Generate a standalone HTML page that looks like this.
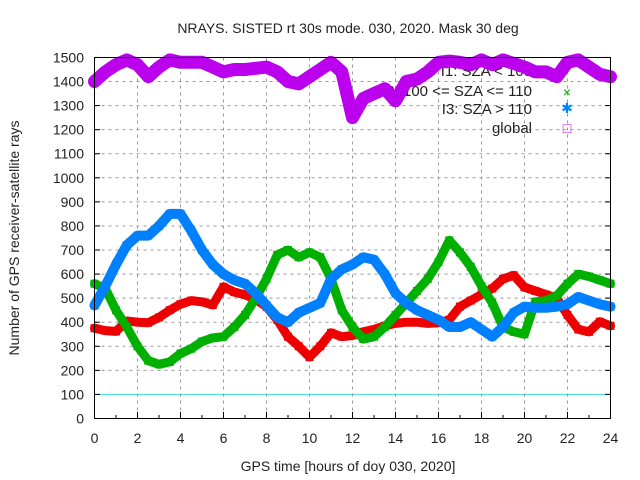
<!DOCTYPE html>
<html><head><meta charset="utf-8"><style>
body{margin:0;background:#fff}
svg{display:block;font-family:"Liberation Sans",sans-serif}
</style></head><body>
<svg id="chart" width="640" height="480" viewBox="0 0 640 480">
<text x="348" y="33" font-size="14" text-anchor="middle" fill="#222">NRAYS. SISTED rt 30s mode. 030, 2020. Mask 30 deg</text>
<text x="348" y="471" font-size="14" text-anchor="middle" fill="#222">GPS time [hours of doy 030, 2020]</text>
<text transform="translate(19,238) rotate(-90)" font-size="14" text-anchor="middle" fill="#222">Number of GPS receiver-satellite rays</text>
<g id="grid"></g>
<g id="ticks"></g>
<g id="legend" font-size="15" fill="#222" text-anchor="end">
<text x="532" y="76">I1: SZA &lt; 100</text>
<text x="532" y="96">I2: 100 &lt;= SZA &lt;= 110</text>
<text x="532" y="114">I3: SZA &gt; 110</text>
<text x="532" y="133">global</text>
</g>
<g id="series"></g>
<rect x="94.5" y="57.5" width="516" height="361" fill="none" stroke="#000" stroke-width="1"/>
</svg>
<script>
const hours=[0,0.5,1,1.5,2,2.5,3,3.5,4,4.5,5,5.5,6,6.5,7,7.5,8,8.5,9,9.5,10,10.5,11,11.5,12,12.5,13,13.5,14,14.5,15,15.5,16,16.5,17,17.5,18,18.5,19,19.5,20,20.5,21,21.5,22,22.5,23,23.5,24];
const redVals=[375,365,362,405,400,398,420,450,475,490,485,472,547,525,514,495,464,410,340,300,255,300,356,340,345,360,370,385,395,400,400,395,398,410,465,490,515,540,580,595,545,530,515,500,430,370,360,402,385];
const greenVals=[560,540,450,380,300,240,225,235,270,290,320,335,340,380,430,500,580,680,700,670,690,670,580,450,380,330,340,380,430,480,530,580,650,740,690,630,550,480,380,360,350,485,490,510,560,600,590,575,560];
const blueVals=[470,550,640,720,760,760,800,850,850,780,700,640,600,575,560,520,470,420,400,440,460,480,580,620,640,670,660,600,520,480,450,430,410,380,380,400,370,340,380,440,465,460,460,465,475,505,490,475,465];
const globalVals=[1400,1440,1470,1490,1470,1420,1460,1490,1480,1480,1480,1460,1440,1450,1450,1455,1460,1440,1400,1390,1420,1450,1480,1440,1250,1330,1350,1370,1320,1400,1410,1440,1480,1485,1480,1470,1490,1470,1490,1475,1460,1440,1440,1420,1480,1490,1460,1430,1420];
const xTicks=[0,2,4,6,8,10,12,14,16,18,20,22,24];
const yTicks=[0,100,200,300,400,500,600,700,800,900,1000,1100,1200,1300,1400,1500];
const X=h=>94.5+h*21.5;
const Y=v=>418.5-v*0.2407;
const NS='http://www.w3.org/2000/svg';
function mk(tag,attrs,parent){const e=document.createElementNS(NS,tag);for(const k in attrs)e.setAttribute(k,attrs[k]);parent.appendChild(e);return e;}
const grid=document.getElementById('grid'),ticks=document.getElementById('ticks');
yTicks.forEach(v=>{
  if(v>0&&v<1500){const l=mk('line',{x1:94.5,x2:610.5,y1:Y(v),y2:Y(v),stroke:v===100?'#40d8d8':'#999','stroke-dasharray':v===100?'none':'3,4'},grid);
  
  }
  const t=mk('text',{x:84,y:Y(v)+5,'font-size':14,'text-anchor':'end',fill:'#222'},ticks);t.textContent=v;
  
  
  mk('line',{x1:94.5,x2:100,y1:Y(v),y2:Y(v),stroke:'#000'},ticks);
  mk('line',{x1:605,x2:610.5,y1:Y(v),y2:Y(v),stroke:'#000'},ticks);
});
xTicks.forEach(h=>{
  if(h>0&&h<24){const l=mk('line',{x1:X(h),x2:X(h),y1:57.5,y2:418.5,stroke:'#999','stroke-dasharray':'3,4'},grid);
  
  }
  const t=mk('text',{x:X(h),y:443,'font-size':14,'text-anchor':'middle',fill:'#222'},ticks);t.textContent=h;
  
  
  mk('line',{x1:X(h),x2:X(h),y1:418.5,y2:412,stroke:'#000'},ticks);
});
for(let h=1;h<24;h+=2){mk('line',{x1:X(h),x2:X(h),y1:418.5,y2:415,stroke:'#000'},ticks);}
const series=document.getElementById('series');
function drawSeries(vals,color,name,w){
  const g=mk('g',{},series);
  
  
  let segs=[],cur=[];
  vals.forEach((v,i)=>{if(v==null){if(cur.length)segs.push(cur);cur=[];}else cur.push(X(hours[i]).toFixed(1)+','+Y(v).toFixed(1));});
  if(cur.length)segs.push(cur);
  segs.forEach(s=>{const p=mk('polyline',{points:s.join(' '),fill:'none',stroke:color,'stroke-width':w,'stroke-linejoin':'round','stroke-linecap':'round'},g);
    
    });
  vals.forEach((v,i)=>{if(v==null)return;const r=mk('rect',{x:X(hours[i])-4,y:Y(v)-4,width:8,height:8,fill:color},g);
    
    });
}
drawSeries(redVals,'#ee0000','series-i1',9);
drawSeries(greenVals,'#00b000','series-i2',9);
drawSeries(blueVals,'#0080ff','series-i3',10);
drawSeries(globalVals,'#bb00ee','series-global',13);
const lg=document.getElementById('legend');
[['#00b000','×',97],['#0080ff','✱',113],['#bb00ee','□',133]].forEach(m=>{const t=mk('text',{x:567,y:m[2],'font-size':14,'text-anchor':'middle',fill:m[0]},lg);t.textContent=m[1];
  
  });
</script>
</body></html>
